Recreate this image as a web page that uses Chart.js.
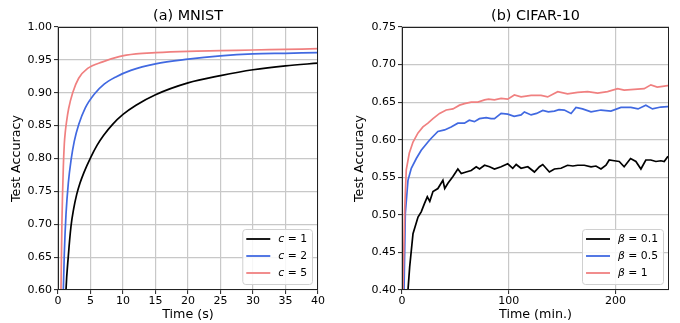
<!DOCTYPE html>
<html>
<head>
<meta charset="utf-8">
<script src="https://cdn.jsdelivr.net/npm/chart.js@4"></script>
<style>
  html, body { margin: 0; padding: 0; background: #fff; }
  #wrap { position: relative; width: 680px; height: 323px; overflow: hidden; }
  #wrap canvas { position: absolute; top: 0; }
</style>
</head>
<body>
<div id="wrap">
  <canvas id="mnist" width="340" height="323" style="left:0"></canvas>
  <canvas id="cifar" width="335" height="323" style="left:345px"></canvas>
</div>
<script>
// ---------------------------------------------------------------------------
// Data
// ---------------------------------------------------------------------------

// (a) MNIST, time in seconds
const mnistTimeC1 = [1.0, 1.23, 1.59, 2.0, 2.4, 2.87, 3.4, 4, 5, 6, 7, 8.4, 10, 12, 15, 20, 25, 30, 35, 40];
const mnistAccC1  = [0.53, 0.60, 0.652, 0.697, 0.723, 0.745, 0.763, 0.779, 0.801, 0.820, 0.835, 0.852, 0.867, 0.881, 0.897, 0.915, 0.926, 0.935, 0.941, 0.945];

const mnistTimeC2 = [0.6, 0.82, 0.97, 1.23, 1.59, 2.0, 2.5, 3.2, 4.2, 5.6, 7.1, 8.9, 11.2, 15, 20, 25, 30, 35, 40];
const mnistAccC2  = [0.50, 0.60, 0.655, 0.715, 0.763, 0.797, 0.826, 0.852, 0.877, 0.898, 0.913, 0.924, 0.934, 0.944, 0.951, 0.956, 0.959, 0.960, 0.961];

const mnistTimeC5 = [0.35, 0.46, 0.6, 0.82, 0.97, 1.12, 1.3, 1.64, 2.26, 3.18, 4.56, 6.87, 9.4, 12, 15, 20, 25, 30, 35, 40];
const mnistAccC5  = [0.45, 0.60, 0.70, 0.787, 0.822, 0.84, 0.855, 0.876, 0.900, 0.922, 0.937, 0.947, 0.955, 0.959, 0.961, 0.963, 0.964, 0.965, 0.966, 0.967];

const mnistLegendSymbol = "c";
const mnistLegendValues = ["1", "2", "5"];

// (b) CIFAR-10, time in minutes
const cifarTimeB01 = [4, 5.6, 7.2, 10.3, 15, 18, 21, 23.7, 26, 29, 33.6, 38.3, 40, 43, 47.7, 52.3, 55.5, 60,
  64.8, 69.5, 72.6, 77.3, 82, 86.6, 92.8, 99, 103.7, 106.9, 111.5, 117.8, 124, 128.7, 131.8, 138, 142.7,
  148.9, 155, 160, 164.5, 170.7, 177, 181.6, 186.3, 191, 194, 198.7, 203.4, 208, 214, 219, 223.7, 228.3,
  233, 237.7, 242.4, 245.5, 248.6, 250];
const cifarAccB01 = [0.36, 0.40, 0.431, 0.475, 0.497, 0.504, 0.515, 0.524, 0.518, 0.531, 0.535, 0.546, 0.535, 0.542, 0.551, 0.561, 0.555, 0.557,
  0.559, 0.564, 0.561, 0.566, 0.564, 0.561, 0.564, 0.568, 0.562, 0.567, 0.562, 0.564, 0.557, 0.564, 0.567, 0.557, 0.561,
  0.562, 0.566, 0.565, 0.566, 0.566, 0.564, 0.565, 0.561, 0.566, 0.573, 0.572, 0.571, 0.564, 0.575, 0.571, 0.561, 0.573,
  0.573, 0.571, 0.572, 0.571, 0.577, 0.578];

const cifarTimeB05 = [0, 1.9, 3.1, 5.6, 8.7, 13.4, 18, 24.3, 27.4, 33.6, 39.9, 46, 52.3, 58.5, 63, 67.8, 72.5, 78.8,
  83.4, 86.6, 92.8, 99, 105, 111.5, 114.6, 120.9, 126, 131.8, 137, 142.7, 147, 152, 158.3, 162.9, 169, 177,
  186.3, 195.6, 205, 214.3, 221, 228.3, 234.5, 242.4, 248.6, 250];
const cifarAccB05 = [0.30, 0.40, 0.502, 0.546, 0.562, 0.575, 0.586, 0.597, 0.602, 0.611, 0.613, 0.617, 0.622, 0.622, 0.626, 0.624, 0.628, 0.6295,
  0.628, 0.628, 0.635, 0.634, 0.631, 0.633, 0.637, 0.633, 0.635, 0.639, 0.637, 0.638, 0.640, 0.6395, 0.635, 0.643, 0.641, 0.637,
  0.6395, 0.638, 0.643, 0.643, 0.641, 0.646, 0.641, 0.6435, 0.644, 0.644];

const cifarTimeB1 = [0, 0.9, 2.5, 4, 6.8, 10.3, 15, 19.6, 24.3, 29, 35.2, 41.4, 47.7, 53.9, 58.5, 64.8, 71, 77.3,
  81, 86.6, 92.8, 99, 105.2, 111.5, 120.9, 130.2, 136.4, 145.8, 155, 164.5, 173.8, 183.2, 192.5, 201.9, 208,
  217.4, 226.8, 233, 239, 244, 248.6, 250];
const cifarAccB1 = [0.30, 0.40, 0.506, 0.560, 0.582, 0.597, 0.609, 0.617, 0.622, 0.628, 0.635, 0.6395, 0.641, 0.646, 0.648, 0.650, 0.650, 0.653,
  0.654, 0.653, 0.655, 0.654, 0.6595, 0.657, 0.659, 0.659, 0.657, 0.664, 0.661, 0.663, 0.664, 0.662, 0.664, 0.668, 0.666,
  0.667, 0.668, 0.673, 0.670, 0.671, 0.672, 0.672];

const cifarLegendSymbol = "β";
const cifarLegendValues = ["0.1", "0.5", "1"];

// ---------------------------------------------------------------------------
// Styling
// ---------------------------------------------------------------------------

const FONT = "'DejaVu Sans', sans-serif";
const COLORS = ["#000000", "#4169e1", "#f08080"];
const GRID = "#c8c8c8";
const SPINE = "#222222";

Chart.defaults.font.family = FONT;
Chart.defaults.color = "#000";

function points(xs, ys) {
  return xs.map((x, i) => ({ x, y: ys[i] }));
}

// title, frame and in-plot legend, drawn like matplotlib does
const panelDecor = {
  id: "panelDecor",
  afterDatasetsDraw(chart, args, opts) {
    const ctx = chart.ctx;
    const a = chart.chartArea;
    ctx.save();

    // frame (all four spines)
    ctx.strokeStyle = SPINE;
    ctx.lineWidth = 1;
    ctx.strokeRect(Math.round(a.left) + 0.5, Math.round(a.top) + 0.5,
                   Math.round(a.right - a.left) - 1, Math.round(a.bottom - a.top) - 1);

    // title
    ctx.fillStyle = "#000";
    ctx.font = `14.4px ${FONT}`;
    ctx.textAlign = "center";
    ctx.textBaseline = "middle";
    ctx.fillText(opts.title, (a.left + a.right) / 2, 16);

    // legend (lower right)
    const fontSize = 10.8;
    const rowH = 17;
    const lineLen = 24;
    const symFont = `italic ${fontSize}px ${FONT}`;
    const valFont = `${fontSize}px ${FONT}`;
    let textW = 0;
    opts.values.forEach(v => {
      ctx.font = symFont;
      let w = ctx.measureText(opts.symbol).width;
      ctx.font = valFont;
      w += ctx.measureText(" = " + v).width;
      textW = Math.max(textW, w);
    });
    const boxW = 4 + lineLen + 8 + textW + 5;
    const boxH = rowH * opts.values.length + 4;
    const bx = a.right - 6 - boxW;
    const by = a.bottom - 6 - boxH;

    ctx.beginPath();
    ctx.roundRect(bx + 0.5, by + 0.5, boxW, boxH, 3);
    ctx.fillStyle = "rgba(255,255,255,0.85)";
    ctx.fill();
    ctx.strokeStyle = "#d0d0d0";
    ctx.lineWidth = 1;
    ctx.stroke();

    opts.values.forEach((v, i) => {
      const y = by + 10 + i * rowH;
      ctx.beginPath();
      ctx.moveTo(bx + 4, y);
      ctx.lineTo(bx + 4 + lineLen, y);
      ctx.strokeStyle = COLORS[i];
      ctx.lineWidth = 1.8;
      ctx.stroke();

      const tx = bx + 4 + lineLen + 8;
      ctx.fillStyle = "#000";
      ctx.textAlign = "left";
      ctx.textBaseline = "middle";
      ctx.font = symFont;
      ctx.fillText(opts.symbol, tx, y);
      const sw = ctx.measureText(opts.symbol).width;
      ctx.font = valFont;
      ctx.fillText(" = " + v, tx + sw, y);
    });

    ctx.restore();
  },
};

// ---------------------------------------------------------------------------
// Panel builder
// ---------------------------------------------------------------------------

function makePanel(canvasId, cfg) {
  const datasets = cfg.series.map((s, i) => ({
    data: points(s.x, s.y),
    borderColor: COLORS[i],
    borderWidth: 1.7,
    pointRadius: 0,
    fill: false,
    tension: 0,
    cubicInterpolationMode: cfg.smooth ? "monotone" : "default",
    order: 2 - i,
  }));

  return new Chart(document.getElementById(canvasId), {
    type: "line",
    data: { datasets },
    plugins: [panelDecor],
    options: {
      responsive: false,
      animation: false,
      events: [],
      layout: { padding: { top: 27, right: cfg.padRight, left: 0, bottom: 0 } },
      plugins: {
        legend: { display: false },
        tooltip: { enabled: false },
        panelDecor: { title: cfg.title, symbol: cfg.legendSymbol, values: cfg.legendValues },
      },
      scales: {
        x: {
          type: "linear",
          min: cfg.xMin, max: cfg.xMax,
          afterFit: s => { s.height = 33; },
          ticks: {
            stepSize: cfg.xStep, includeBounds: false,
            padding: 1, font: { size: 11 }, color: "#000",
            callback: v => String(v),
          },
          grid: { color: GRID, lineWidth: 1.2, tickLength: 4, tickColor: SPINE, tickWidth: 1 },
          border: { display: false },
          title: { display: true, text: cfg.xLabel, font: { size: 12.7 }, padding: { top: 0, bottom: 1 } },
        },
        y: {
          min: cfg.yMin, max: cfg.yMax,
          afterFit: s => { s.width = cfg.yWidth; },
          ticks: {
            stepSize: 0.05, includeBounds: false,
            padding: 2, font: { size: 11 }, color: "#000",
            callback: v => v.toFixed(2),
          },
          grid: { color: GRID, lineWidth: 1.2, tickLength: 4, tickColor: SPINE, tickWidth: 1 },
          border: { display: false },
          title: { display: true, text: "Test Accuracy", font: { size: 12.7 }, padding: { top: cfg.yTitlePad, bottom: 0 } },
        },
      },
    },
  });
}

makePanel("mnist", {
  title: "(a) MNIST",
  xLabel: "Time (s)",
  xMin: 0, xMax: 40, xStep: 5,
  yMin: 0.6, yMax: 1.0,
  yWidth: 58, padRight: 22, yTitlePad: 9.3,
  smooth: true,
  series: [
    { x: mnistTimeC1, y: mnistAccC1 },
    { x: mnistTimeC2, y: mnistAccC2 },
    { x: mnistTimeC5, y: mnistAccC5 },
  ],
  legendSymbol: mnistLegendSymbol,
  legendValues: mnistLegendValues,
});

makePanel("cifar", {
  title: "(b) CIFAR-10",
  xLabel: "Time (min.)",
  xMin: 0, xMax: 250, xStep: 100,
  yMin: 0.4, yMax: 0.75,
  yWidth: 57, padRight: 11, yTitlePad: 7.3,
  smooth: false,
  series: [
    { x: cifarTimeB01, y: cifarAccB01 },
    { x: cifarTimeB05, y: cifarAccB05 },
    { x: cifarTimeB1, y: cifarAccB1 },
  ],
  legendSymbol: cifarLegendSymbol,
  legendValues: cifarLegendValues,
});
</script>
</body>
</html>
